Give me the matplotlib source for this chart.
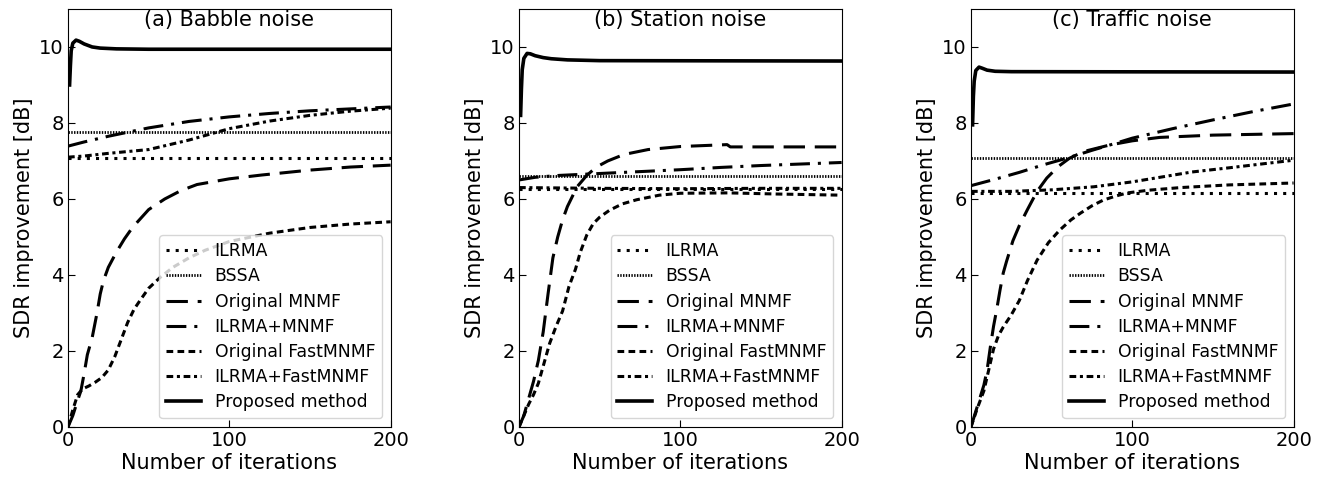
import numpy as np
import matplotlib
matplotlib.use("Agg")
import matplotlib.pyplot as plt

# ---- data ----
titles = ["(a) Babble noise", "(b) Station noise", "(c) Traffic noise"]
labels = ["ILRMA", "BSSA", "Original MNMF", "ILRMA+MNMF",
          "Original FastMNMF", "ILRMA+FastMNMF", "Proposed method"]

# babble
babble_ilrma = 7.08
babble_bssa = 7.76
babble_mnmf_it = [0, 3, 6, 8, 10, 12, 15, 18, 20, 22, 25, 30, 35, 40, 50, 60,
                  70, 80, 100, 120, 150, 175, 200]
babble_mnmf = [0, 0.3, 0.7, 0.95, 1.4, 1.9, 2.35, 3.0, 3.5, 3.85, 4.2, 4.6,
               4.95, 5.25, 5.72, 6.0, 6.22, 6.38, 6.53, 6.63, 6.76, 6.84, 6.89]
babble_ilrma_mnmf_it = [0, 10, 25, 50, 75, 100, 125, 150, 175, 200]
babble_ilrma_mnmf = [7.39, 7.5, 7.65, 7.87, 8.04, 8.16, 8.25, 8.32, 8.37, 8.42]
babble_fast_it = [0, 3, 6, 9, 13, 17, 21, 25, 29, 33, 37, 41, 45, 50, 57, 65,
                  75, 85, 100, 125, 150, 175, 200]
babble_fast = [0, 0.45, 0.85, 1.0, 1.08, 1.18, 1.3, 1.5, 1.85, 2.3, 2.75, 3.1,
               3.35, 3.65, 3.93, 4.2, 4.45, 4.65, 4.88, 5.1, 5.25, 5.34, 5.4]
babble_ilrma_fast_it = [0, 10, 25, 50, 75, 100, 125, 150, 175, 200]
babble_ilrma_fast = [7.1, 7.13, 7.2, 7.3, 7.55, 7.85, 8.05, 8.2, 8.31, 8.39]
babble_prop_it = [1, 1.5, 2, 3, 5, 7, 10, 15, 20, 30, 50, 100, 200]
babble_prop = [9.0, 9.5, 9.9, 10.1, 10.18, 10.15, 10.08, 10.0, 9.97, 9.95,
               9.94, 9.94, 9.94]

# station
station_ilrma = 6.25
station_bssa = 6.6
station_mnmf_it = [0, 3, 6, 9, 12, 15, 18, 21, 24, 27, 30, 36, 42, 48, 55, 65,
                   80, 100, 129, 131, 200]
station_mnmf = [0, 0.3, 0.75, 1.2, 1.75, 2.5, 3.5, 4.45, 5.0, 5.45, 5.8, 6.32,
                6.62, 6.84, 7.0, 7.17, 7.3, 7.38, 7.43, 7.37, 7.37]
station_ilrma_mnmf_it = [0, 10, 25, 50, 75, 100, 125, 150, 175, 200]
station_ilrma_mnmf = [6.5, 6.57, 6.62, 6.67, 6.72, 6.77, 6.83, 6.88, 6.92, 6.96]
station_fast_it = [0, 3, 6, 9, 12, 15, 19, 23, 27, 31, 35, 38, 42, 46, 50, 56,
                   64, 73, 87, 100, 130, 160, 200]
station_fast = [0, 0.3, 0.6, 0.85, 1.15, 1.6, 2.2, 2.65, 3.05, 3.7, 4.15, 4.6,
                5.05, 5.35, 5.52, 5.7, 5.87, 5.98, 6.1, 6.15, 6.16, 6.13, 6.1]
station_ilrma_fast_it = [0, 50, 100, 150, 200]
station_ilrma_fast = [6.3, 6.28, 6.27, 6.28, 6.28]
station_prop_it = [1, 1.5, 2, 3, 5, 7, 10, 15, 20, 30, 50, 200]
station_prop = [8.2, 8.9, 9.4, 9.7, 9.83, 9.82, 9.77, 9.72, 9.69, 9.66, 9.64,
                9.63]

# traffic
traffic_ilrma = 6.16
traffic_bssa = 7.08
traffic_mnmf_it = [0, 4, 8, 10, 12, 14, 16, 18, 20, 22, 26, 30, 35, 41, 47, 54,
                   61, 70, 86, 100, 117, 150, 200]
traffic_mnmf = [0, 0.55, 1.1, 1.5, 2.1, 2.65, 3.1, 3.6, 4.05, 4.35, 4.9, 5.3,
                5.72, 6.2, 6.55, 6.85, 7.07, 7.25, 7.42, 7.53, 7.62, 7.68, 7.72]
traffic_ilrma_mnmf_it = [0, 15, 30, 45, 60, 75, 90, 100, 125, 150, 175, 200]
traffic_ilrma_mnmf = [6.35, 6.52, 6.7, 6.9, 7.08, 7.28, 7.47, 7.6, 7.85, 8.08,
                      8.3, 8.5]
traffic_fast_it = [0, 4, 8, 11, 14, 17, 20, 25, 30, 35, 41, 48, 55, 62, 68, 75,
                   82, 90, 97, 110, 130, 160, 200]
traffic_fast = [0, 0.5, 0.95, 1.5, 2.05, 2.4, 2.63, 2.95, 3.33, 3.85, 4.39,
                4.85, 5.18, 5.45, 5.63, 5.82, 5.97, 6.08, 6.16, 6.23, 6.3, 6.37,
                6.42]
traffic_ilrma_fast_it = [0, 25, 50, 76, 100, 137, 160, 200]
traffic_ilrma_fast = [6.2, 6.2, 6.24, 6.32, 6.45, 6.71, 6.82, 7.02]
traffic_prop_it = [1, 1.5, 2, 3, 5, 7, 10, 15, 25, 200]
traffic_prop = [7.95, 8.7, 9.1, 9.38, 9.47, 9.44, 9.39, 9.36, 9.35, 9.34]

panels = [
    (babble_ilrma, babble_bssa, babble_mnmf_it, babble_mnmf,
     babble_ilrma_mnmf_it, babble_ilrma_mnmf, babble_fast_it, babble_fast,
     babble_ilrma_fast_it, babble_ilrma_fast, babble_prop_it, babble_prop),
    (station_ilrma, station_bssa, station_mnmf_it, station_mnmf,
     station_ilrma_mnmf_it, station_ilrma_mnmf, station_fast_it, station_fast,
     station_ilrma_fast_it, station_ilrma_fast, station_prop_it, station_prop),
    (traffic_ilrma, traffic_bssa, traffic_mnmf_it, traffic_mnmf,
     traffic_ilrma_mnmf_it, traffic_ilrma_mnmf, traffic_fast_it, traffic_fast,
     traffic_ilrma_fast_it, traffic_ilrma_fast, traffic_prop_it, traffic_prop),
]

# ---- styles ----
lw = 2.2
styles = [
    dict(linestyle=(0, (1, 2)), linewidth=lw),             # ILRMA
    dict(linestyle=(0, (0.5, 0.5)), linewidth=2.0),        # BSSA
    dict(linestyle=(0, (7, 3.2)), linewidth=lw),           # Original MNMF
    dict(linestyle=(0, (6.5, 2.6, 1, 2.6)), linewidth=lw),  # ILRMA+MNMF
    dict(linestyle=(0, (2.2, 1.4)), linewidth=lw),         # Original FastMNMF
    dict(linestyle=(0, (2.2, 1.2, 1, 1.2)), linewidth=lw),  # ILRMA+FastMNMF
    dict(linestyle="-", linewidth=2.6),                    # Proposed
]

fig = plt.figure(figsize=(13.25, 4.79), dpi=100)
lefts = [0.0513, 0.3917, 0.7328]

for i, data in enumerate(panels):
    (ilrma, bssa, m_it, m, im_it, im, f_it, f, if_it, iff, p_it, p) = data
    ax = fig.add_axes([lefts[i], 0.1086, 0.2435, 0.8727])
    series = [
        ([0, 200], [ilrma, ilrma]),
        ([0, 200], [bssa, bssa]),
        (m_it, m),
        (im_it, im),
        (f_it, f),
        (if_it, iff),
        (p_it, p),
    ]
    for (x, y), st, lab in zip(series, styles, labels):
        ax.plot(x, y, color="black", label=lab, **st)

    ax.set_xlim(0, 200)
    ax.set_ylim(0, 11)
    ax.set_xticks([0, 100, 200])
    ax.set_yticks([0, 2, 4, 6, 8, 10])
    ax.tick_params(direction="in", labelsize=14, length=5, pad=3)
    ax.set_xlabel("Number of iterations", fontsize=15, labelpad=2)
    ax.set_ylabel("SDR improvement [dB]", fontsize=15, labelpad=4)
    ax.text(0.5, 0.974, titles[i], transform=ax.transAxes, ha="center",
            va="center", fontsize=15)
    ax.legend(loc="lower right", fontsize=12.4, labelspacing=0.42,
              handlelength=2.0, borderaxespad=0.5)

fig.savefig("out.png", dpi=100)
